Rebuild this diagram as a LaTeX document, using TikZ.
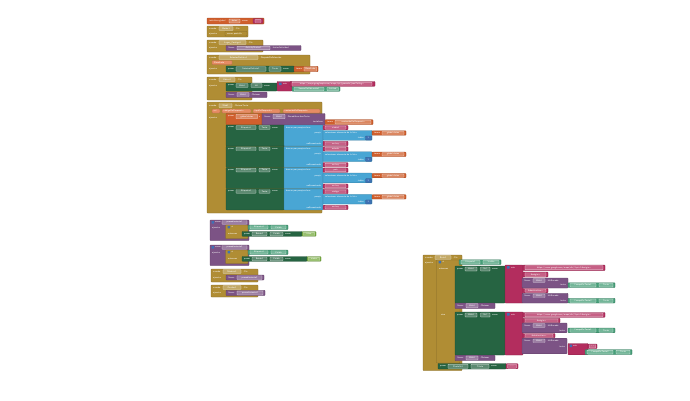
\documentclass[tikz,border=0pt]{standalone}
\usepackage{tikz}
\usetikzlibrary{calc}

% block colours
\definecolor{ctrl}{RGB}{176,141,52}
\definecolor{var}{RGB}{208,95,45}
\definecolor{parm}{RGB}{230,140,100}
\definecolor{txt}{RGB}{179,45,94}
\definecolor{set}{RGB}{38,100,66}
\definecolor{get}{RGB}{70,158,120}
\definecolor{proc}{RGB}{124,83,133}
\definecolor{lst}{RGB}{73,166,212}
\definecolor{num}{RGB}{63,113,181}
\definecolor{logic}{RGB}{119,171,65}

\tikzset{
  blk/.style={rounded corners=0.6pt, line width=0.25pt},
  fld/.style={fill=white, fill opacity=0.25, draw=white, draw opacity=0.8, line width=0.2pt, rounded corners=0.4pt},
  lbl/.style={text=white, font=\sffamily\fontsize{2.3}{2.6}\selectfont, inner sep=0pt, anchor=west},
}

% block, label, right label, field
\newcommand\bx[5]{\path[blk, fill=#1, draw=#1!75!black] (#2,#3) rectangle (#4,#5);}
\newcommand\tx[3]{\node[lbl] at (#1,#2) {#3};}
\newcommand\tr[3]{\node[lbl, anchor=east] at (#1,#2) {#3};}
\newcommand\fd[5]{\path[fld] (#1,#2) rectangle (#3,#4);
  \node[lbl, anchor=center] at ({(#1+#3)/2},{(#2+#4)/2}) {#5};}
\newcommand\gear[2]{\fill[num, rounded corners=0.3pt] (#1,#2) rectangle ++(2.6,2.6);}

\begin{document}
\begin{tikzpicture}[x=1pt, y=-1pt]
    \useasboundingbox (0,0) rectangle (690,400);

    % global variable
    \bx{var}{207}{18}{264}{24}
    \tx{209}{21}{inicializar global}\fd{229}{19}{240}{23}{datos}\tx{242}{21}{como}
    \bx{txt}{253}{18.7}{263}{23.3}\fd{255}{19.4}{261}{22.6}{" "}

    % close screen
    \bx{ctrl}{207}{26}{248}{37}
    \tx{209}{28.5}{cuando}\fd{219}{26.7}{233}{30.3}{Botón1}\tx{235}{28.5}{.Clic}
    \tx{209}{33.8}{ejecutar}
    \bx{ctrl}{225}{31.5}{247}{36}\tx{227}{33.8}{cerrar pantalla}

    % activity starter
    \bx{ctrl}{207}{40}{263}{52}
    \tx{209}{42.5}{cuando}\fd{219}{40.7}{246}{44.3}{Lugar\_Contigo1}\tx{248}{42.5}{.Clic}
    \tx{209}{48}{ejecutar}
    \bx{proc}{226}{45.5}{301}{50.5}
    \tx{228}{48}{llamar}\fd{237}{46.2}{270}{49.8}{ActivityStarter1}\tx{272}{48}{.IniciarActividad}

    % list picker
    \bx{ctrl}{207}{55}{310}{74}
    \tx{209}{57.5}{cuando}\fd{219}{55.7}{258}{59.3}{SelectorDeLista1}\tx{260}{57.5}{.DespuésDeSelección}
    \bx{parm}{212}{60.5}{232}{64.5}\tx{214}{62.5}{Resultado}
    \tx{209}{69}{ejecutar}
    \bx{set}{226}{66}{294}{72}
    \tx{228}{69}{poner}\fd{236}{66.8}{266}{71.2}{SelectorDeLista1}\tx{267.5}{69}{.}\fd{269}{66.8}{281}{71.2}{Texto}\tx{283}{69}{como}
    \bx{var}{294}{66.3}{318}{71.7}\tx{296}{69}{tomar}\fd{304}{66.9}{316.5}{71.1}{Resultado}

    % locate
    \bx{ctrl}{207}{77}{252}{100}
    \tx{209}{79.5}{cuando}\fd{219}{77.7}{235}{81.3}{Ubicar1}\tx{237}{79.5}{.Clic}
    \tx{209}{86}{ejecutar}
    \bx{set}{226}{83}{277}{91}
    \tx{228}{85.5}{poner}\fd{236}{83.7}{248}{87.3}{Web1}\tx{249.5}{85.5}{.}\fd{251}{83.7}{262}{87.3}{Url}\tx{264}{85.5}{como}
    \bx{txt}{277}{81.5}{292}{91}\gear{279}{82.5}\tx{283}{84}{unir}
    \bx{txt}{290}{81.5}{375}{86.3}\fd{292}{82.2}{372}{85.6}{https://maps.googleapis.com/maps/api/geocode/json?latlng=}
    \bx{get}{292}{86.8}{340}{91.3}\fd{294}{87.4}{324}{90.7}{SensorDeUbicación1}\tx{325.5}{89}{.}\fd{327}{87.4}{338.5}{90.7}{Latitud}
    \bx{proc}{226}{92}{267}{97.5}
    \tx{228}{94.7}{llamar}\fd{237}{92.7}{249}{96.6}{Web1}\tx{251}{94.7}{.Obtener}

    % web response
    \bx{ctrl}{207}{102}{322}{213}
    \tx{209}{105.5}{cuando}\fd{219}{103.6}{232}{107.4}{Web1}\tx{234}{105.5}{.ObtuvoTexto}
    \bx{parm}{212}{109}{220}{113}\tx{213.5}{111}{url}
    \bx{parm}{222}{109}{251}{113}\tx{223.5}{111}{códigoDeRespuesta}
    \bx{parm}{253}{109}{280}{113}\tx{254.5}{111}{tipoDeRespuesta}
    \bx{parm}{283}{109}{320}{113}\tx{284.5}{111}{contenidoDeRespuesta}
    \tx{209}{118}{ejecutar}
    \bx{var}{226}{113.5}{262}{124.5}
    \tx{228}{116.5}{poner}\fd{236}{114.3}{257.5}{118.7}{global datos}\tx{259}{116.5}{a}
    \bx{proc}{262}{113.5}{325}{125}
    \tx{264}{116.5}{llamar}\fd{273}{114.3}{285}{118.7}{Web1}\tx{287}{116.5}{.DecodificarJsonTexto}
    \tr{323}{122}{textoJson}
    \bx{var}{325}{119.7}{373}{124.5}\tx{327}{122}{tomar}\fd{335}{120.3}{371}{123.9}{contenidoDeRespuesta}

    \foreach \i/\lab/\key/\none in {0/Etiqueta1/ciudad/no hay, 1/Etiqueta2/estado/no hay,
                                  2/Etiqueta3/país/no hay, 3/Etiqueta4/código/no hay}{
      \pgfmathsetmacro\y{125+\i*21.3}
      \bx{set}{226}{\y}{284}{\y+21}
      \tx{228}{\y+2.5}{poner}\fd{236}{\y+0.7}{256}{\y+4.3}{\lab}\tx{257.5}{\y+2.5}{.}\fd{259}{\y+0.7}{270}{\y+4.3}{Texto}\tx{272}{\y+2.5}{como}
      \bx{lst}{284}{\y}{323}{\y+21}
      \tx{286}{\y+2.5}{buscar por parejas  clave}
      \tr{321}{\y+8}{pareja}
      \tr{321}{\y+18.5}{noEncontrado}
      \bx{txt}{323}{\y+0.4}{348}{\y+4.8}\fd{325}{\y+1}{346}{\y+4.2}{\key}
      \bx{lst}{323}{\y+5.5}{372}{\y+15.2}
      \tx{325}{\y+8}{seleccionar elemento de la lista}
      \tr{364}{\y+13}{índice}
      \bx{num}{365.5}{\y+11}{371.5}{\y+15}\tx{367.3}{\y+13}{1}
      \bx{var}{372}{\y+5.8}{406}{\y+10.2}\tx{374}{\y+8}{tomar}\fd{382}{\y+6.4}{404}{\y+9.6}{global datos}
      \bx{txt}{323}{\y+16.3}{348}{\y+20.7}\fd{325}{\y+16.9}{346}{\y+20.1}{\none}
    }

    % show / hide procedures
    \foreach \j/\val/\w in {0/falso/302, 1/cierto/307}{
      \pgfmathsetmacro\y{220+\j*25}
      \bx{proc}{210}{\y}{249}{\y+20.5}
      \gear{211.5}{\y+1}\tx{215}{\y+2.3}{como}\fd{222}{\y+0.6}{247}{\y+4.2}{procedimiento\pgfmathparse{int(\j+1)}\pgfmathresult}
      \tx{212}{\y+8}{ejecutar}
      \bx{ctrl}{225.5}{\y+5}{248}{\y+18.5}
      \gear{227.5}{\y+5.8}\tx{231.5}{\y+7.2}{si}\tx{228}{\y+13.5}{entonces}
      \bx{get}{248}{\y+5}{288}{\y+9.5}
      \fd{250}{\y+5.6}{268}{\y+8.9}{Etiqueta1}\tx{269.5}{\y+7.2}{.}\fd{271}{\y+5.6}{286}{\y+8.9}{Visible}
      \bx{set}{242}{\y+11.5}{\w}{\y+16.3}
      \tx{244}{\y+13.9}{poner}\fd{252}{\y+12.1}{267}{\y+15.7}{Botón1}\tx{268.5}{\y+13.9}{.}\fd{270}{\y+12.1}{283}{\y+15.7}{Visible}\tx{285}{\y+13.9}{como}
      \bx{logic}{\w}{\y+11.6}{\w+14}{\y+16.2}\fd{\w+1.5}{\y+12.2}{\w+12.5}{\y+15.6}{\val}
    }

    % procedure calls
    \bx{ctrl}{211}{269}{258}{282}
    \tx{213}{271.5}{cuando}\fd{223}{269.7}{241}{273.3}{Mostrar1}\tx{243}{271.5}{.Clic}
    \tx{213}{277.5}{ejecutar}
    \bx{proc}{226}{275}{264}{280}\tx{228}{277.5}{llamar}\fd{237}{275.6}{262}{279.4}{procedimiento1}
    \bx{ctrl}{211}{285}{258}{297}
    \tx{213}{287.5}{cuando}\fd{223}{285.7}{241}{289.3}{Ocultar1}\tx{243}{287.5}{.Clic}
    \tx{213}{292.8}{ejecutar}
    \bx{proc}{226}{290.3}{265}{295.5}\tx{228}{292.8}{llamar}\fd{237}{290.9}{263}{294.9}{procedimiento2}

    % route
    \bx{ctrl}{423}{255}{462}{370.5}
    \tx{425}{257.5}{cuando}\fd{435}{255.7}{451}{259.3}{Ruta1}\tx{453}{257.5}{.Clic}
    \tx{425}{262.5}{ejecutar}
    \bx{ctrl}{436.5}{260}{460}{363}
    \gear{438.5}{260.8}\tx{442.5}{262.2}{si}
    \tx{439}{269}{entonces}
    \tx{441}{315}{sino}
    \bx{get}{459}{259.8}{501}{264.6}\fd{461}{260.4}{480}{264}{Etiqueta1}\tx{481.5}{262.2}{.}\fd{483}{260.4}{499}{264}{Visible}

    \bx{set}{455}{266}{505}{303}
    \tx{457}{269}{poner}\fd{465}{267}{477}{271}{Web1}\tx{478.5}{269}{.}\fd{480.5}{267}{490}{271}{Url}\tx{492}{269}{como}
    \bx{txt}{505}{265}{523}{303}\gear{507}{266}\tx{511}{267.5}{unir}
    \bx{txt}{523}{265}{605}{270.5}\fd{525}{265.7}{603}{269.8}{https://www.google.com/maps/dir/?api=1\&origin=}
    \bx{txt}{523}{272}{548}{277}\fd{525}{272.6}{546}{276.4}{\&origin=}
    \bx{proc}{522}{278}{568}{288}
    \tx{524}{280.5}{llamar}\fd{533}{278.7}{545}{282.3}{Web1}\tx{547}{280.5}{.UriEncode}\tr{566}{285.2}{texto}
    \bx{get}{568}{282.8}{615}{287.6}\fd{570}{283.4}{596}{287}{CampoDeTexto1}\tx{597.5}{285.2}{.}\fd{599}{283.4}{613}{287}{Texto}
    \bx{txt}{523}{288.5}{548}{292.8}\fd{525}{289.1}{546}{292.2}{\&destination=}
    \bx{proc}{522}{293.3}{568}{303}
    \tx{524}{295.8}{llamar}\fd{533}{294}{545}{297.6}{Web1}\tx{547}{295.8}{.UriEncode}\tr{566}{300.6}{texto}
    \bx{get}{568}{298.3}{615}{303}\fd{570}{298.9}{596}{302.4}{CampoDeTexto2}\tx{597.5}{300.6}{.}\fd{599}{298.9}{613}{302.4}{Texto}
    \bx{proc}{455}{303}{495}{308.5}
    \tx{457}{305.7}{llamar}\fd{466}{303.7}{478}{307.7}{Web1}\tx{480}{305.7}{.Obtener}

    \bx{set}{455}{312}{505}{355}
    \tx{457}{315}{poner}\fd{465}{313}{477}{317}{Web1}\tx{478.5}{315}{.}\fd{480.5}{313}{490}{317}{Url}\tx{492}{315}{como}
    \bx{txt}{505}{312}{523}{355}\gear{507}{313}\tx{511}{314.5}{unir}
    \bx{txt}{523}{312.5}{605}{317.3}\fd{525}{313.1}{603}{316.7}{https://www.google.com/maps/dir/?api=1\&origin=}
    \bx{txt}{523}{318.3}{560}{322.7}\fd{525}{318.9}{558}{322.1}{\&origin=}
    \bx{proc}{522}{323}{567}{332.8}
    \tx{524}{325.5}{llamar}\fd{533}{323.7}{545}{327.3}{Web1}\tx{547}{325.5}{.UriEncode}\tr{565}{330.4}{texto}
    \bx{get}{568}{328}{615}{332.8}\fd{570}{328.6}{596}{332.2}{CampoDeTexto1}\tx{597.5}{330.4}{.}\fd{599}{328.6}{613}{332.2}{Texto}
    \bx{txt}{523}{333.5}{555}{337.7}\fd{525}{334.1}{553}{337.1}{\&destination=}
    \bx{proc}{522}{338.2}{567}{353.8}
    \tx{524}{340.7}{llamar}\fd{533}{339}{545}{342.6}{Web1}\tx{547}{340.7}{.UriEncode}\tr{565}{346.5}{texto}
    \bx{txt}{568}{343.5}{588}{354.8}\gear{569.5}{344.5}\tx{573}{346}{unir}
    \bx{txt}{588}{344}{597}{348.5}\fd{589.3}{344.6}{595.7}{347.9}{" "}
    \bx{get}{585}{349.6}{632}{354.6}\fd{587}{350.2}{613}{354}{CampoDeTexto2}\tx{614.5}{352.1}{.}\fd{616}{350.2}{630}{354}{Texto}
    \bx{proc}{455}{355.2}{495}{360.7}
    \tx{457}{358}{llamar}\fd{466}{355.9}{478}{359.9}{Web1}\tx{480}{358}{.Obtener}

    \bx{set}{438}{363.5}{506}{369}
    \tx{440}{366.3}{poner}\fd{448}{364.2}{468}{368.3}{Pantalla1}\tx{469.5}{366.3}{.}\fd{471}{364.2}{489}{368.3}{Título}\tx{491}{366.3}{como}
    \bx{txt}{506}{363.7}{518}{368.8}\fd{507.5}{364.3}{516.5}{368.2}{" "}
\end{tikzpicture}
\end{document}
